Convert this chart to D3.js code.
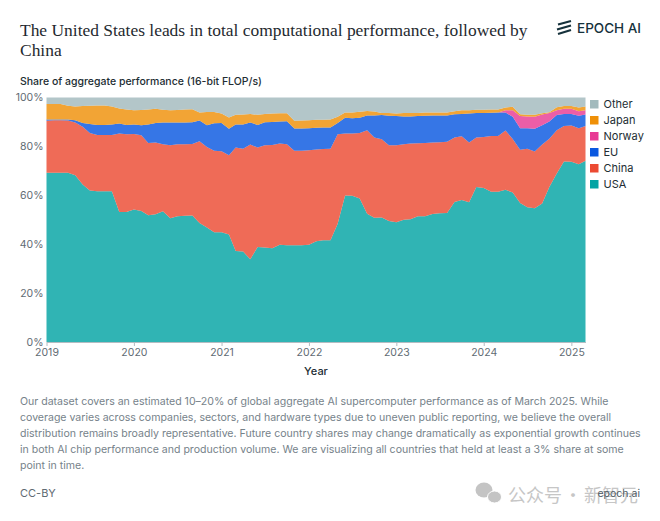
<!DOCTYPE html>
<html>
<head>
<meta charset="utf-8">
<script src="https://cdn.jsdelivr.net/npm/d3@7"></script>
<style>
  html, body { margin: 0; padding: 0; background: #fff; }
  svg { display: block; font-family: Inter, sans-serif; }
  .axis text { font-size: 10.5px; fill: #5f6b73; font-family: Inter, sans-serif; }
  .axis path, .axis line { stroke: #b4bcc2; }
</style>
</head>
<body>
<script>
// monthly shares, Jan 2019 .. Mar 2025
var startYear = 2019;
var categories = ["USA", "China", "EU", "Norway", "Japan", "Other"];
var colors = ["#03a4a4", "#ec4a32", "#0a58e0", "#e83a94", "#ef9008", "#a2babd"];
var yearTicks = [2019, 2020, 2021, 2022, 2023, 2024, 2025];
var percentTicks = [0, 20, 40, 60, 80, 100];

var usa = [69.2,69.2,69.2,69.2,68.2,64.4,62,61.7,61.7,61.7,53.2,53.2,
  54.2,53.6,51.8,52.3,53.5,50.6,51.4,51.6,51.7,48.7,46.8,44.9,
  44.9,44,37.2,37,33.8,38.9,38.6,38.3,39.8,39.6,39.6,39.6,
  39.8,41.2,41.6,41.6,48.4,59.9,59.8,58.7,52.5,50.8,50.9,49.5,
  49,50,50.2,51.4,51.4,52.4,52.7,52.8,57.3,58.1,57.2,63.3,
  63,61.4,61.5,62.3,61.1,56.9,55.1,54.7,56.6,63.4,68.9,73.8,
  73.7,72.7,74.1];
var china = [21.3,21.5,21.5,21.4,21.6,23.6,23.5,23,23,23,32.1,31.8,
  30.9,31,29.6,29.3,27.4,29.9,29.5,29.3,29.3,33.4,33,33.3,
  33.1,32.4,42.3,42,47,40.6,41.9,42.3,41.4,41.3,38.6,38.6,
  38.6,37.5,37.3,37.4,36.6,25.4,25.5,26.8,34.1,32.8,32,31,
  31.5,30.9,31,29.9,30,29.2,29,29.1,26.3,26.1,24.4,20.2,
  20.8,22.8,22.8,24.2,21.9,21.7,23.9,23.2,24.2,19.7,17.7,14.5,
  14.8,14.7,14.2];
var eu = [0.5,0.3,0.3,0.4,0.9,1.6,3.7,4.1,4.1,4.3,4.1,3.8,
  3.9,4.1,7.6,8,8.9,9.3,8.9,8.9,8.9,8.5,8.9,11.3,
  11.6,10.8,9.5,10,9,9.3,9.4,9.4,9,9.4,9.1,9.1,
  9,8.9,8.8,8.7,4.6,6.4,6.2,6.2,6,9,9.9,12,
  11.9,11.3,11,11.1,11.1,11,10.9,10.7,9.6,9.1,11.9,10,
  9.9,9.5,9.6,7.4,9.1,8.8,8.4,9.3,7.9,7.1,6.2,5,
  4.8,5.1,4.7];
var norway = [0,0,0,0,0,0,0,0,0,0,0,0,
  0,0,0,0,0,0,0,0,0,0,0,0,
  0,0,0,0,0,0,0,0,0,0,0,0,
  0,0,0,0,0,0,0,0,0,0,0,0,
  0,0,0,0,0,0,0,0,0,0,0,0,
  0,0,0,0.9,2.7,5,4.8,4.9,4.3,3.5,2,2.1,
  2.1,1.9,1.8];
var japan = [6.3,6.3,6.3,5.6,5.6,6.9,7.4,7.9,7.9,7.3,6.1,6.3,
  5.8,6.2,6.1,5.8,5.2,5,5.1,5.3,5.3,3.3,5.4,4.6,
  3.9,4.6,3.9,4,3.5,4.1,3.4,3.5,3.4,3.3,3.2,3.3,
  3.3,3.3,3.2,3.3,2.5,2.2,2.4,2.5,1.9,1.7,0.9,1.2,
  1.1,1.5,1.5,1.3,1.4,1.3,1.3,1.3,1.2,1.5,1.3,1.3,
  1.3,1.3,1.2,1.1,1.4,0.8,0.7,0.8,0.6,0.3,1.2,1.1,
  1.1,1.5,1.5];
var other = [2.7,2.7,2.7,3.4,3.7,3.5,3.4,3.3,3.3,3.7,4.5,4.9,
  5.2,5.1,4.9,4.6,5,5.2,5.1,4.9,4.8,6.1,5.9,5.9,
  6.5,8.2,7.1,7,6.7,7.1,6.7,6.5,6.4,6.4,9.5,9.4,
  9.3,9.1,9.1,9,7.9,6.1,6.1,5.8,5.5,5.7,6.3,6.3,
  6.5,6.3,6.3,6.3,6.1,6.1,6.1,6.1,5.6,5.2,5.2,5,
  5,4.9,4.9,4.1,3.8,6.8,7.1,7.1,6.4,6,4,3.5,
  3.5,4.1,3.7];

var titleLines = ["The United States leads in total computational performance, followed by", "China"];
var noteLines = [
  "Our dataset covers an estimated 10\u201320% of global aggregate AI supercomputer performance as of March 2025. While",
  "coverage varies across companies, sectors, and hardware types due to uneven public reporting, we believe the overall",
  "distribution remains broadly representative. Future country shares may change dramatically as exponential growth continues",
  "in both AI chip performance and production volume. We are visualizing all countries that held at least a 3% share at some",
  "point in time."
];

var rows = usa.map(function(d, i){
  return {
    date: new Date(startYear, i, 1),
    USA: usa[i], China: china[i], EU: eu[i], Norway: norway[i], Japan: japan[i], Other: other[i]
  };
});

var svg = d3.select("body").append("svg").attr("width", 660).attr("height", 521);

var x = d3.scaleTime()
  .domain([rows[0].date, rows[rows.length - 1].date])
  .range([46.5, 585.5]);
var y = d3.scaleLinear().domain([0, 100]).range([342, 97.5]);

var stack = d3.stack().keys(categories).order(d3.stackOrderNone).offset(d3.stackOffsetExpand);
var area = d3.area()
  .x(function(d){ return x(d.data.date); })
  .y0(function(d){ return y(d[0] * 100); })
  .y1(function(d){ return y(d[1] * 100); });

svg.selectAll("path.layer").data(stack(rows)).enter()
  .append("path")
  .attr("class", "layer")
  .attr("d", area)
  .attr("fill", function(d, i){ return colors[i]; })
  .attr("fill-opacity", 0.82);

// axes
var xAxis = d3.axisBottom(x)
  .tickValues(yearTicks.map(function(d){ return new Date(d, 0, 1); }))
  .tickFormat(d3.timeFormat("%Y"))
  .tickSize(4).tickSizeOuter(0);
svg.append("g").attr("class", "axis").attr("transform", "translate(0,342)").call(xAxis);

var yAxis = d3.axisLeft(y)
  .tickValues(percentTicks)
  .tickFormat(function(d){ return d + "%"; })
  .tickSize(0);
svg.append("g").attr("class", "axis").attr("transform", "translate(46.5,0)").call(yAxis)
  .call(function(g){ g.select(".domain").remove(); });

svg.append("text").attr("x", 316).attr("y", 375).attr("text-anchor", "middle")
  .attr("font-size", 11).attr("font-weight", 500).attr("fill", "#222d33").text("Year");

// legend, top of stack first
var legendNames = categories.slice().reverse();
var legendColors = colors.slice().reverse();
var legend = svg.selectAll("g.legend").data(legendNames).enter()
  .append("g").attr("class", "legend")
  .attr("transform", function(d, i){ return "translate(590," + (100 + i * 16) + ")"; });
legend.append("rect").attr("width", 8.5).attr("height", 8.5)
  .attr("fill", function(d, i){ return legendColors[i]; });
legend.append("text").attr("x", 13.5).attr("y", 8.3)
  .attr("font-size", 11).attr("fill", "#222d33").text(function(d){ return d; });

// title
svg.selectAll("text.title").data(titleLines).enter()
  .append("text").attr("class", "title")
  .attr("x", 20).attr("y", function(d, i){ return 36 + i * 19.5; })
  .attr("font-family", "'Liberation Serif', serif")
  .attr("font-size", 17.45).attr("fill", "#1f2a30").text(function(d){ return d; });

svg.append("text").attr("x", 20).attr("y", 85)
  .attr("font-size", 10.5).attr("font-weight", 500).attr("fill", "#222d33")
  .text("Share of aggregate performance (16-bit FLOP/s)");

// logo
var logo = svg.append("g").attr("transform", "translate(556,20)")
  .attr("fill", "none").attr("stroke", "#16323c").attr("stroke-width", 2.2);
logo.selectAll("path").data(["M2,4.5L15,1", "M1,9.5L15,5.5", "M2,14L15,10"]).enter()
  .append("path").attr("d", function(d){ return d; });
svg.append("text").attr("x", 577).attr("y", 33)
  .attr("font-size", 13.5).attr("font-weight", 500)
  .attr("fill", "#16323c").text("EPOCH AI");

// note
svg.selectAll("text.note").data(noteLines).enter()
  .append("text").attr("class", "note")
  .attr("x", 20).attr("y", function(d, i){ return 405 + i * 16; })
  .attr("font-size", 10.55).attr("fill", "#76828a").text(function(d){ return d; });

svg.append("text").attr("x", 20).attr("y", 497)
  .attr("font-size", 11).attr("fill", "#5f6b73").text("CC-BY");

// watermark
var mark = svg.append("g").attr("fill", "#c4c4c4");
mark.append("ellipse").attr("cx", 484).attr("cy", 490).attr("rx", 8.5).attr("ry", 7.5);
mark.append("ellipse").attr("cx", 494.5).attr("cy", 497).attr("rx", 7).attr("ry", 6)
  .attr("stroke", "#fff").attr("stroke-width", 1);
var markText = svg.append("g").attr("font-family", "'Noto Sans CJK SC', sans-serif")
  .attr("font-size", 18).attr("fill", "#c6c6c6");
markText.append("text").attr("x", 508).attr("y", 502).text("公众号");
markText.append("text").attr("x", 564).attr("y", 502).text("·");
markText.append("text").attr("x", 584).attr("y", 502).text("新智元");
svg.append("text").attr("x", 640).attr("y", 497).attr("text-anchor", "end")
  .attr("font-size", 10.5).attr("fill", "#4f5b63").text("epoch.ai");
</script>
</body>
</html>
